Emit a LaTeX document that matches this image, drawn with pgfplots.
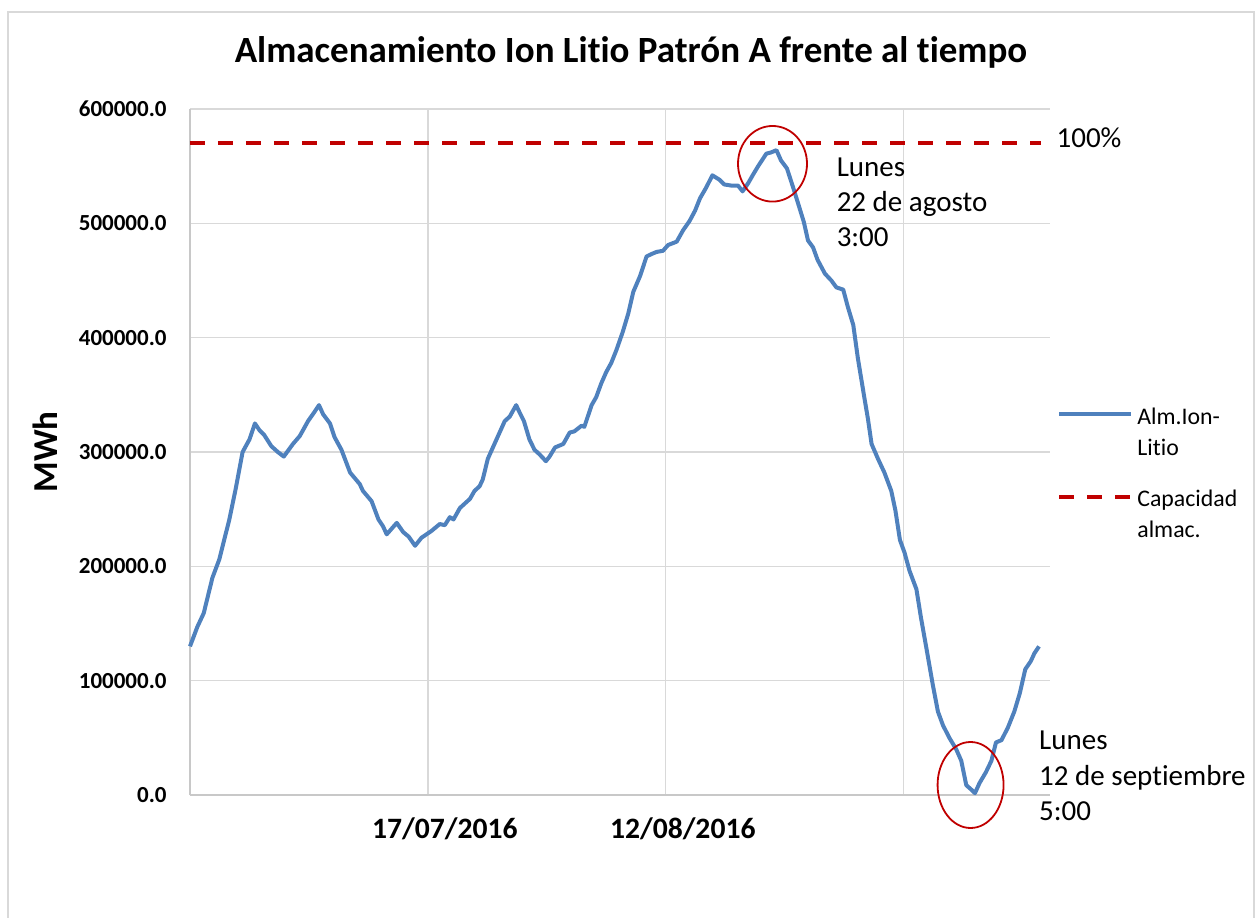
\documentclass[border=0pt]{standalone}
\usepackage{fontspec}
\setmainfont{Carlito}[Ligatures=NoCommon]
\usepackage{pgfplots}
\pgfplotsset{compat=1.18}
\definecolor{serieblue}{HTML}{4F81BD}
\definecolor{capred}{HTML}{C00000}
\definecolor{gridgray}{HTML}{D9D9D9}
\definecolor{axisgray}{HTML}{C8C8C8}
\newcommand{\annfont}{\fontsize{14.5}{17.5}\selectfont}
\begin{document}
\begin{tikzpicture}
\useasboundingbox (0,0) rectangle (630pt,458.5pt);
\draw[gridgray, line width=0.75pt] (4pt,-2pt) -- (4pt,452.5pt) -- (627pt,452.5pt) -- (627pt,-2pt);
\begin{axis}[
  at={(95pt,61pt)}, anchor=south west,
  scale only axis, width=430pt, height=343pt,
  xmin=0, xmax=94, ymin=0, ymax=600000,
  clip=false,
  axis x line=bottom, axis y line=left,
  axis line style={draw=axisgray, line width=0.75pt, -},
  major tick length=0pt,
  xtick={26,52,78}, xticklabels={17/07/2016,12/08/2016,{}},
  ytick={0,100000,200000,300000,400000,500000,600000},
  scaled y ticks=false,
  /pgf/number format/assume math mode=true,
  yticklabel style={/pgf/number format/fixed, /pgf/number format/fixed zerofill,
     /pgf/number format/precision=1, /pgf/number format/1000 sep={},
     font=\fontsize{11.5}{13}\selectfont\bfseries, inner sep=0pt, xshift=-11.5pt},
  xticklabel style={font=\fontsize{14.8}{17}\selectfont\bfseries, inner sep=0pt, yshift=-11pt, xshift=8.5pt},
  grid=major,
  major grid style={draw=gridgray, line width=0.75pt},
  ylabel={MWh},
  ylabel style={at={(axis description cs:-0.1535,0.5)}, anchor=base, font=\fontsize{17.5}{20}\selectfont\bfseries},
  title={Almacenamiento Ion Litio Patrón A frente al tiempo},
  title style={at={(axis description cs:0.5128,1.0510)}, anchor=base, font=\fontsize{18.5}{22}\selectfont\bfseries},
  legend style={at={(1.00814,0.5787)}, anchor=north west, draw=none, fill=none, inner sep=0pt,
     row sep=25pt, column sep=0pt, font=\fontsize{11.9}{15.5}\selectfont,
     cells={anchor=base west, inner sep=0pt}},
  legend image code/.code={\draw[#1] (0pt,5pt) -- (36pt,5pt);},
]
\addplot[serieblue, line width=2pt, line join=round] coordinates {
(0,130000) (0.8,147000) (1.5,159000) (2.45,190000) (3.2,206000) (4.3,241000)
(5.0,268000) (5.75,300000) (6.5,311000) (7.1,325000) (7.6,319000) (8.1,315000)
(8.9,305000) (9.6,300000) (10.25,296000) (11.25,307000) (12.0,314000) (12.9,327000)
(13.6,335000) (14.1,341000) (14.55,333000) (15.3,325000) (15.8,313000) (16.55,302000)
(17.5,282000) (18.55,272000) (18.9,266000) (19.85,257000) (20.6,241000) (21.1,235000)
(21.5,228000) (22.6,238000) (23.3,230000) (23.9,226000) (24.6,218000) (25.3,225000)
(26.4,231000) (27.3,237000) (27.85,236000) (28.4,243000) (28.8,241000) (29.5,251000)
(30.6,259000) (31.1,266000) (31.65,270000) (32.0,276000) (32.55,294000) (33.5,311000)
(34.4,327000) (34.95,331000) (35.65,341000) (36.0,335000) (36.5,327000) (37.1,311000)
(37.65,302000) (38.2,298000) (38.9,292000) (39.3,296000) (39.9,304000) (40.8,307000)
(41.5,317000) (42.0,318000) (42.8,323000) (43.1,322000) (43.9,341000) (44.4,348000)
(44.95,360000) (45.5,370000) (46.05,378000) (46.6,389000) (47.3,405000) (47.9,421000)
(48.45,440000) (49.2,454000) (49.9,471000) (50.4,473000) (51.0,475000) (51.7,476000)
(52.25,481000) (53.2,484000) (53.9,494000) (54.6,502000) (55.2,511000) (55.75,522000)
(56.4,531000) (57.1,542000) (57.9,538000) (58.4,534000) (59.2,533000) (59.9,533000)
(60.4,528000) (61.0,535000) (61.5,542000) (62.1,550000) (63.0,561000) (63.5,562000)
(64.1,564000) (64.6,555000) (65.25,548000) (65.9,532000) (66.6,514000) (67.1,501000)
(67.55,485000) (68.1,479000) (68.6,468000) (69.4,456000) (70.1,450000) (70.65,444000)
(71.4,442000) (71.9,427000) (72.5,411000) (73.0,382000) (73.7,348000) (74.1,329000)
(74.5,307000) (75.2,294000) (75.9,282000) (76.65,266000) (77.1,249000) (77.6,223000)
(78.1,212000) (78.65,196000) (79.4,180000) (79.9,155000) (80.5,128000) (81.2,96000)
(81.75,73000) (82.3,61000) (83.0,50000) (83.75,40000) (84.3,30000) (84.85,8600)
(85.4,4700) (85.8,1600) (86.3,10500) (87.0,20000) (87.6,30000) (88.1,46000)
(88.7,48000) (89.4,59000) (90.1,73000) (90.7,89000) (91.3,110000) (91.9,117000)
(92.3,124000) (92.8,130000)
};
\addlegendentry{\begin{tabular}[t]{@{}l@{}}Alm.Ion-\\Litio\end{tabular}}
\addplot[capred, line width=2pt, dash pattern=on 7.5pt off 6.5pt] coordinates {(0,570000) (93,570000)};
\addlegendentry{\begin{tabular}[t]{@{}l@{}}Capacidad\\almac.\end{tabular}}
\draw[capred, line width=0.9pt] (axis cs:63.67,552100) ellipse [x radius=17.25pt, y radius=18.9pt];
\draw[capred, line width=0.9pt] (axis cs:85.32,8746) ellipse [x radius=16.5pt, y radius=21.5pt];
\node[anchor=base west, inner sep=0pt, font=\annfont] at (axis cs:70.65,541400) {Lunes};
\node[anchor=base west, inner sep=0pt, font=\annfont] at (axis cs:70.65,510200) {22 de agosto};
\node[anchor=base west, inner sep=0pt, font=\annfont] at (axis cs:70.65,479600) {3:00};
\node[anchor=base west, inner sep=0pt, font=\annfont] at (axis cs:92.78,39970) {Lunes};
\node[anchor=base west, inner sep=0pt, font=\annfont] at (axis cs:92.78,8130) {12 de septiembre};
\node[anchor=base west, inner sep=0pt, font=\annfont] at (axis cs:92.78,-22700) {5:00};
\node[anchor=base west, inner sep=0pt, font=\annfont] at (axis cs:94.68,566500) {100\%};
\end{axis}
\end{tikzpicture}
\end{document}
